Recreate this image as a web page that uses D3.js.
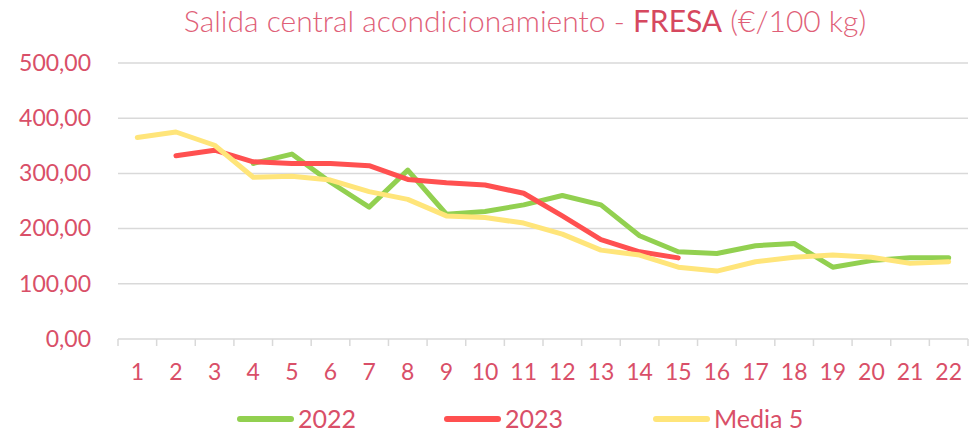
<!DOCTYPE html>
<html>
<head>
<meta charset="utf-8">
<script src="https://cdn.jsdelivr.net/npm/d3@7/dist/d3.min.js"></script>
<style>
  html, body { margin: 0; padding: 0; background: #ffffff; }
  svg { display: block; font-family: Lato, "Open Sans", sans-serif; }
</style>
</head>
<body>
<svg id="chart" width="974" height="435"></svg>
<script>
// Semanas
const weeks = d3.range(1, 23);
// Precio salida central (€/100 kg)
const values2022 = [null, null, null, 318, 335, 284, 239, 306, 226, 231, 243, 260, 243, 187, 158, 155, 169, 173, 130, 142, 147, 147];
const values2023 = [null, 332, 342, 321, 318, 318, 314, 289, 283, 279, 264, 223, 180, 158, 147, null, null, null, null, null, null, null];
const valuesMedia5 = [365, 375, 351, 293, 295, 288, 267, 253, 223, 220, 210, 190, 161, 152, 130, 123, 140, 148, 152, 148, 137, 140];
const yTicks = [0, 100, 200, 300, 400, 500];
const seriesNames = ["2022", "2023", "Media 5"];

const colors = { "2022": "#92d050", "2023": "#ff5050", "Media 5": "#ffe57a" };
const textColor = "#d94f68";

const svg = d3.select("#chart");
const plot = { left: 118, right: 968, top: 63, bottom: 339 };

const x = d3.scaleBand().domain(weeks).range([plot.left, plot.right]);
const y = d3.scaleLinear().domain([0, 500]).range([plot.bottom, plot.top]);
const fmt = v => d3.format(".2f")(v).replace(".", ",");

// Title
const title = svg.append("text")
  .attr("x", 525).attr("y", 32)
  .attr("text-anchor", "middle")
  .attr("font-size", 30)
  .attr("fill", "#e05f78");
title.append("tspan").attr("font-weight", 300).text("Salida central acondicionamiento - ");
title.append("tspan").attr("font-weight", 400).attr("fill", "#d6485f").text("FRESA");
title.append("tspan").attr("font-weight", 300).text(" (€/100 kg)");

// Gridlines
svg.append("g")
  .selectAll("line")
  .data(yTicks.filter(d => d > 0))
  .join("line")
  .attr("x1", plot.left).attr("x2", plot.right)
  .attr("y1", d => y(d)).attr("y2", d => y(d))
  .attr("stroke", "#d9d9d9").attr("stroke-width", 1.5);

// Y axis labels
const yAxis = svg.append("g")
  .attr("transform", `translate(${plot.left},0)`)
  .call(d3.axisLeft(y).tickValues(yTicks).tickFormat(fmt).tickSize(0).tickPadding(27));
yAxis.select(".domain").remove();
yAxis.selectAll("text")
  .attr("font-size", 23)
  .attr("font-family", "Lato, 'Open Sans', sans-serif")
  .attr("fill", textColor);

// X axis line with tick marks at category boundaries
svg.append("line")
  .attr("x1", plot.left).attr("x2", plot.right)
  .attr("y1", plot.bottom).attr("y2", plot.bottom)
  .attr("stroke", "#d9d9d9").attr("stroke-width", 1.5);
const boundaries = weeks.map(w => x(w)).concat([plot.right]);
svg.append("g")
  .selectAll("line")
  .data(boundaries)
  .join("line")
  .attr("x1", d => d).attr("x2", d => d)
  .attr("y1", plot.bottom).attr("y2", plot.bottom + 7)
  .attr("stroke", "#d9d9d9").attr("stroke-width", 1.5);

// X labels
const xAxis = svg.append("g")
  .attr("transform", `translate(0,${plot.bottom})`)
  .call(d3.axisBottom(x).tickSize(0).tickPadding(25));
xAxis.select(".domain").remove();
xAxis.selectAll("text")
  .attr("font-size", 23)
  .attr("font-family", "Lato, 'Open Sans', sans-serif")
  .attr("fill", textColor);

// Lines
const cx = w => x(w) + x.bandwidth() / 2;
const line = d3.line()
  .defined(d => d.v != null)
  .x(d => cx(d.w))
  .y(d => y(d.v));

const seriesData = {
  "2022": values2022,
  "2023": values2023,
  "Media 5": valuesMedia5
};

seriesNames.forEach(name => {
  const pts = weeks.map((w, i) => ({ w, v: seriesData[name][i] }));
  svg.append("path")
    .datum(pts)
    .attr("d", line)
    .attr("fill", "none")
    .attr("stroke", colors[name])
    .attr("stroke-width", 5)
    .attr("stroke-linejoin", "round")
    .attr("stroke-linecap", "round");
});

// Legend
const legendItems = [
  { name: "2022", x0: 240, x1: 291, tx: 298 },
  { name: "2023", x0: 447, x1: 498, tx: 505 },
  { name: "Media 5", x0: 656, x1: 707, tx: 714 }
];
const legend = svg.append("g");
legendItems.forEach(it => {
  legend.append("line")
    .attr("x1", it.x0).attr("x2", it.x1)
    .attr("y1", 419).attr("y2", 419)
    .attr("stroke", colors[it.name])
    .attr("stroke-width", 6)
    .attr("stroke-linecap", "round");
  legend.append("text")
    .attr("x", it.tx).attr("y", 428)
    .attr("font-size", 25)
    .attr("fill", textColor)
    .text(it.name);
});
</script>
</body>
</html>
